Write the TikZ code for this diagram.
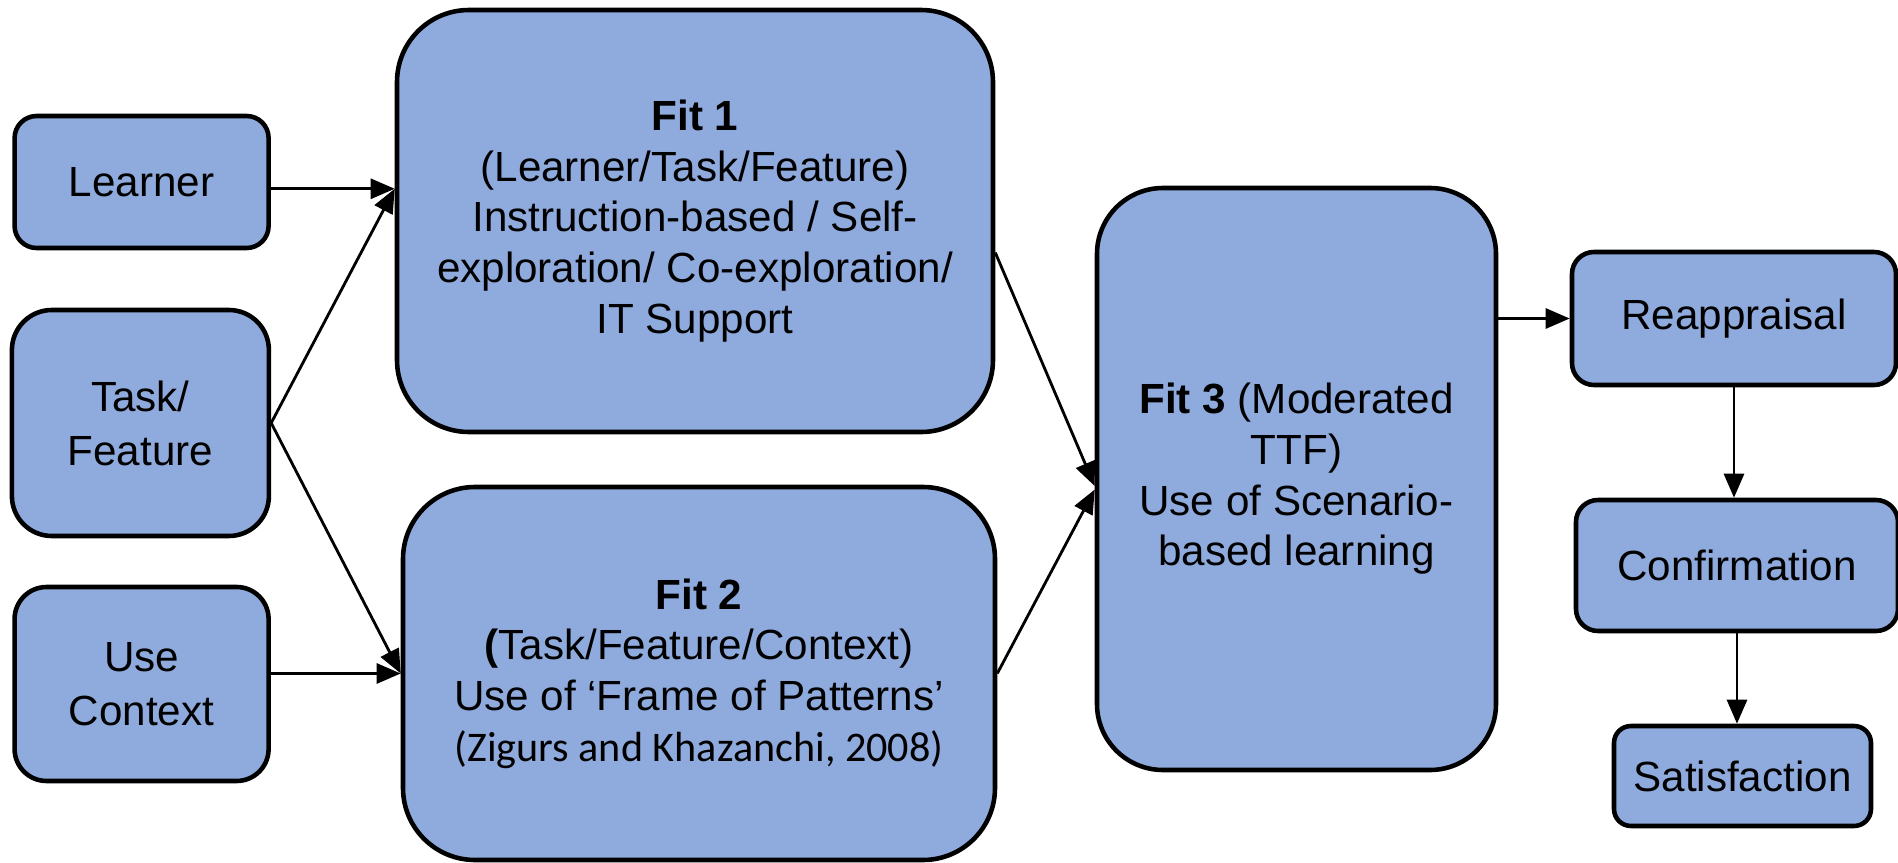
\documentclass[tikz,border=0pt]{standalone}
\usepackage{fontspec}
\setmainfont{Liberation Sans}
\newfontfamily\carlito{Carlito}
\usetikzlibrary{arrows.meta}

\begin{document}
\begin{tikzpicture}[
  box/.style={draw, line width=1.3pt, fill=boxblue, align=center,
    font=\fontsize{12}{14.4}\selectfont, inner sep=0pt},
  conn/.style={-{Triangle[length=2.4mm,width=2mm]}, line width=0.8pt}]
\definecolor{boxblue}{HTML}{8FAADC}
\useasboundingbox (0,0) rectangle (18.98,-8.63);
\node[box, minimum width=2.54cm, minimum height=1.32cm, rounded corners=0.22cm] (learner) at (1.416,-1.82) {Learner};
\node[box, minimum width=2.57cm, minimum height=2.26cm, rounded corners=0.4cm] (task) at (1.404,-4.23) {Task/\\[1pt]Feature};
\node[box, minimum width=2.54cm, minimum height=1.94cm, rounded corners=0.32cm] (context) at (1.416,-6.84) {Use\\[1pt]Context};
\node[box, minimum width=5.96cm, minimum height=4.22cm, rounded corners=0.72cm] (fitone) at (6.95,-2.21)
  {\textbf{Fit 1}\\(Learner/Task/Feature)\\Instruction-based / Self-\\exploration/ Co-exploration/\\IT Support};
\node[box, minimum width=5.92cm, minimum height=3.73cm, rounded corners=0.72cm] (fittwo) at (6.99,-6.735)
  {\textbf{Fit 2}\\\textbf{(}Task/Feature/Context)\\Use of ‘Frame of Patterns’\\{\carlito (Zigurs and Khazanchi, 2008)}};
\node[box, minimum width=3.99cm, minimum height=5.82cm, rounded corners=0.66cm] (fitthree) at (12.965,-4.79)
  {\textbf{Fit 3} (Moderated\\TTF)\\Use of Scenario-\\based learning};
\node[box, minimum width=3.24cm, minimum height=1.33cm, rounded corners=0.22cm] (reap) at (17.34,-3.185) {Reappraisal};
\node[box, minimum width=3.22cm, minimum height=1.31cm, rounded corners=0.22cm] (conf) at (17.37,-5.655) {Confirmation};
\node[box, minimum width=2.57cm, minimum height=1.00cm, rounded corners=0.17cm] (sat) at (17.425,-7.76) {Satisfaction};
\draw[conn] (learner.-3) -- (learner.-3 -| fitone.west);
\draw[conn] (task.east) -- (learner.-3 -| fitone.west);
\draw[conn] (task.east) -- (fittwo.west);
\draw[conn] (context.east |- fittwo.west) -- (fittwo.west);
\draw[conn] (fitone.-6) -- (fitthree.182);
\draw[conn] (fittwo.east) -- (fitthree.183);
\draw[conn] (fitthree.east |- reap.west) -- (reap.west);
\draw[conn] (reap.south) -- (reap.south |- conf.north);
\draw[conn] (conf.south) -- (conf.south |- sat.north);
\end{tikzpicture}
\end{document}
